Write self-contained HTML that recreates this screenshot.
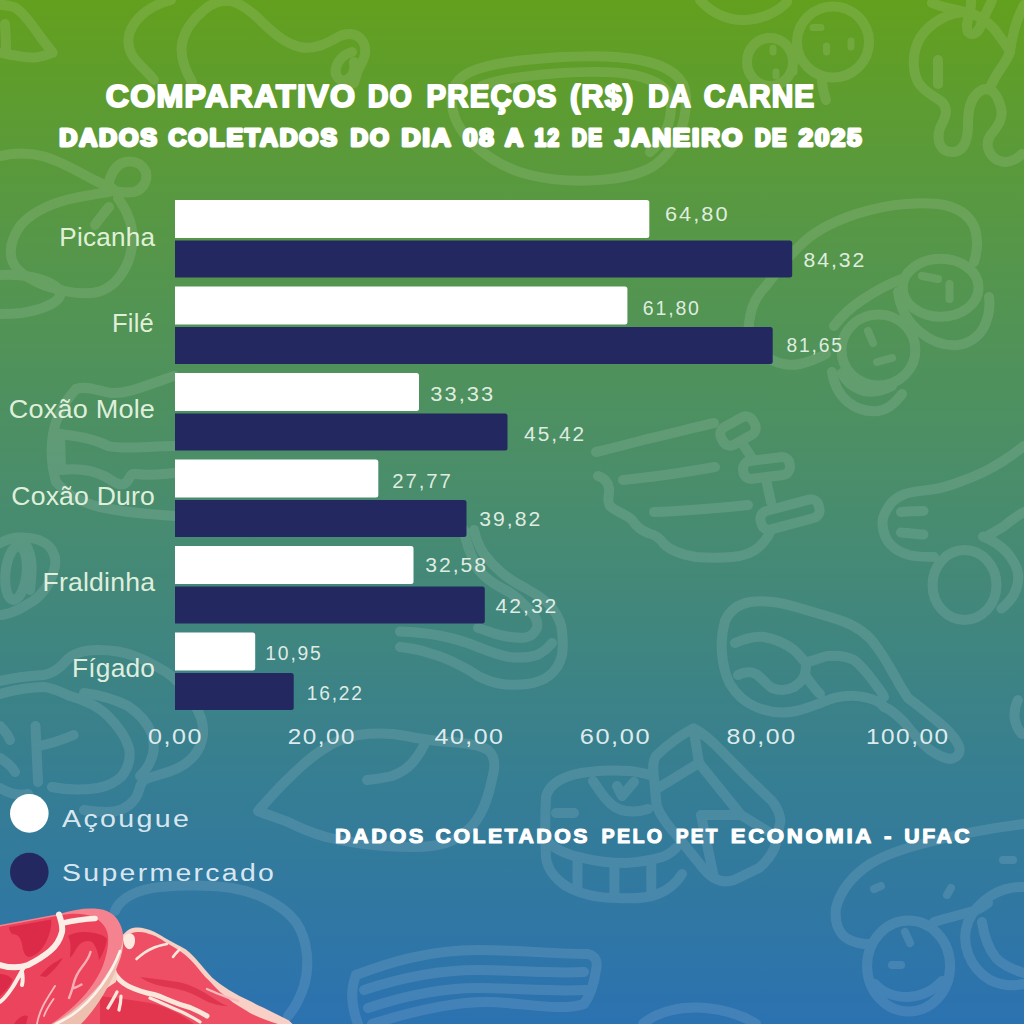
<!DOCTYPE html>
<html lang="pt-BR"><head><meta charset="utf-8"><title>Comparativo de preços da carne</title>
<style>
html,body{margin:0;padding:0;background:#3a83a0;}
body{width:1024px;height:1024px;overflow:hidden;position:relative;font-family:"Liberation Sans",sans-serif;}
svg{display:block;position:absolute;left:0;top:0;}
text{font-family:"Liberation Sans",sans-serif;fill:#fff;}
.t1{font-weight:700;font-size:31px;stroke:#fff;stroke-width:2.0px;stroke-linejoin:round;}
.t2{font-weight:700;font-size:23.8px;stroke:#fff;stroke-width:2.8px;stroke-linejoin:round;}
.cat{font-size:26.0px;fill:#eefae6;fill-opacity:.93;}
.val{font-size:19.3px;fill:#eef7ee;fill-opacity:.92;}
.ax{font-size:22.6px;fill:#eef7f7;fill-opacity:.92;}
.leg{font-size:24.6px;fill:#e8f3fa;fill-opacity:.93;}
.foot{font-weight:700;font-size:20.5px;stroke:#fff;stroke-width:1.1px;stroke-linejoin:round;}
</style></head><body>
<svg width="1024" height="1024" viewBox="0 0 1024 1024">
<defs>
<linearGradient id="bg" x1="0" y1="0" x2="0" y2="1">
<stop offset="0" stop-color="#63a01e"/>
<stop offset="0.25" stop-color="#55964b"/>
<stop offset="0.5" stop-color="#488c6f"/>
<stop offset="0.76" stop-color="#367e92"/>
<stop offset="1" stop-color="#2b72b1"/>
</linearGradient>
</defs>
<rect width="1024" height="1024" fill="url(#bg)"/>
<g id="doodles" fill="none" stroke="#ffffff" stroke-width="10" stroke-linecap="round" stroke-linejoin="round" opacity="0.11">
<!-- A: top-left leaf -->
<path d="M0 4.700C6 5 10 6 14 7C20 10 24 15 28 20C33 26 37 32 41 37.500C45 43 49 48 52.700 52.700C47 55 41 57 35 57.400C27 58 19 56 11.700 55C7 54 3 53 0 52.700"/>
<path d="M5 24C5.500 32 6 42 6 50"/>
<!-- B: ham / drumstick at top -->
<path d="M171 0C156 4 142 12 134 24C126 36 127 48 134 58C140 66 148 72 154 80"/>
<path d="M231 1C222 0 212 3 204 10C192 20 184 32 182 44C180 56 184 68 192 82"/>
<path d="M231 1C242 4 252 12 262 22C274 34 286 44 300 47C314 50 326 44 340 36C350 32 360 34 364 44C368 54 362 62 358 70C356 76 355 80 354 83"/>
<path d="M352 52C344 54 338 60 336 68C334 76 340 82 346 80C352 78 356 70 354 62"/>
<!-- C: left drumstick with knot -->
<path d="M0 156C14 153 30 153 42 156C58 160 76 170 92 179C100 183 106 186 112 188"/>
<path d="M108 186C110 176 114 167 122 163C132 159 142 163 146 172C148 182 142 190 134 192C126 193 118 192 112 190"/>
<path d="M112 191C98 194 82 196 66 200C48 205 30 214 20 226C12 238 9 250 12 260C16 272 30 280 46 286C64 292 84 295 98 292C112 288 122 276 128 262C134 246 134 230 128 216C126 210 122 204 118 198"/>
<path d="M109 207C104 213 99 219 95 225"/>
<path d="M0 275C16 274 34 276 48 282C56 286 62 290 60 296C56 304 40 310 22 313C12 314 6 314 0 314"/>
<!-- D: steak behind title -->
<path d="M470 72C500 58 600 52 640 60C665 65 685 75 686 96C687 126 675 150 655 165C630 182 570 185 530 175C490 165 455 135 452 105C450 88 458 78 470 72Z"/>
<path d="M482 86C512 74 600 68 634 75C656 80 670 88 671 102C672 122 664 140 650 152"/>
<!-- E: salami slices -->
<ellipse cx="833" cy="42" rx="36" ry="35.5"/>
<ellipse cx="770" cy="62" rx="23" ry="24"/>
<path d="M813 27.5h8M826.5 46v6M851 41v6M773 48v4M776 72v4M794 69v3" stroke-width="7"/>
<path d="M822 79C822 88 824 94 826 100"/>
<path d="M700 0C712 14 730 21 746 20C762 19 778 12 787 2"/>
<!-- F: top-right dripping shape -->
<path d="M966 12C950 12 930 22 920 38C912 52 912 70 918 82C924 92 934 96 942 102C950 110 944 120 940 128C936 140 940 152 952 152C964 152 968 140 968 124C968 110 970 96 982 90C992 86 998 96 1001 108C1004 120 996 128 990 136C984 146 990 160 1004 162C1012 162 1018 158 1022 154"/>
<path d="M938 60L938 84"/>
<path d="M932 3C944 8 956 10 966 12C976 14 990 22 998 34C1004 42 1008 48 1010 52"/>
<path d="M971 0C972 12 964 24 968 32C974 38 980 30 982 22C986 12 990 6 992 0"/>
<path d="M1024 5C1016 20 1012 36 1010 52C1006 64 996 72 990 88"/>
<!-- G: sausage with slices right -->
<path d="M750 317C752 304 758 294 766 286C778 270 790 254 806 240C820 228 838 220 856 214C872 209 890 205 906 204C920 203 934 203 944 205C958 208 968 214 974 226C978 236 978 250 974 262"/>
<path d="M750 317C748 326 748 334 752 340C756 350 764 356 772 360C780 364 790 366 800 364C810 362 818 358 826 354"/>
<path d="M902 279C888 284 874 292 862 300C850 308 840 318 834 326"/>
<ellipse cx="940.6" cy="287.8" rx="38" ry="29"/>
<path d="M898 292C900 308 908 322 920 332C932 342 946 346 958 345C972 343 982 334 986 322C990 312 990 304 989 297"/>
<ellipse cx="878.4" cy="350" rx="37" ry="35.5"/>
<path d="M832 372C834 384 838 394 848 402C858 410 868 412 878 411C888 410 896 402 902 394"/>
<path d="M842 373C846 382 854 388 864 391C874 393 884 390 892 386"/>
<path d="M922 276l16 3M949.5 284v15M868 331l5 12M877 362l15 -4" stroke-width="8"/>
<!-- J: bacon strip behind Coxao labels -->
<path d="M76 389C88 385 100 392 112 393C128 394 144 386 174 376"/>
<path d="M76 389C66 400 56 416 53 434C50 452 52 468 56 482C70 498 90 506 110 509C130 513 150 514 174 516"/>
<path d="M60 434C76 436 92 438 108 446C124 450 150 446 174 446"/>
<path d="M60 434L61 470C76 468 92 470 104 476C112 480 118 486 124 484C132 480 128 472 136 474C150 476 162 474 174 473"/>
<!-- K: left edge curl -->
<path d="M0 543C6 540 12 538 18 537.500C26 537 33 538 39 540C46 543 51 547 53 552C56 558 56 564 54 570C52 578 49 584 45 589C40 596 34 601 28 604C22 608 16 611 10 613C6 614 3 615 0 615"/>
<ellipse cx="16" cy="573" rx="10.500" ry="27" transform="rotate(6 16 573)"/>
<path d="M25 543C29 550 31 557 31.500 564C32 573 31 582 30 590"/>
<!-- behind bars: bacon shape visible right of bars rows 5-6 -->
<path d="M474 530C476 540 480 548 484 554C490 562 496 568 502 573C510 580 518 584 527 589C536 594 546 600 552 608C558 616 562 624 562 632C563 640 563 648 562 655C560 664 556 670 550 675C544 680 536 683 527 684C518 685 510 685 502 684C494 683 486 680 478 676C472 672 466 668 459 665C450 660 440 656 429 653C420 650 410 648 400 647"/>
<path d="M464 530C466 545 472 558 478 569C486 580 498 586 509 592C518 598 526 606 533 614C537 619 538 624 537 628C534 634 530 637 525 637.500C517 638 509 637 502 635.500C494 634 486 630 478 628"/>
<path d="M552 643C548 648 543 652 537 655C528 658 518 658 509 657C498 655 488 651 478 647C466 642 452 638 439 635.500C426 633 412 632 400 631.500"/>
<!-- M: ribs -->
<path d="M596 452C614 448 632 443 647 439C670 434 692 428 714 423"/>
<rect x="720" y="421" width="36" height="20" rx="8" transform="rotate(-29 738 431)"/>
<rect x="743" y="459" width="47" height="18" rx="8" transform="rotate(-7 766.500 468)"/>
<rect x="760" y="505" width="60" height="19" rx="8" transform="rotate(-15 790 514.500)"/>
<path d="M744 446L752 458M767 484L771 502"/>
<path d="M623 480C654 477 686 472 715 467"/>
<path d="M654 512C686 511 718 508 748 505"/>
<path d="M598 476C604 478 608 482 609 488C610 494 606 500 610 506C616 512 626 514 632 520C636 526 640 530 648 533C656 535 660 538 664 544C672 552 684 555 696 557C708 558 720 558 732 557C744 556 754 552 760 546C764 542 768 538 770 532"/>
<!-- O: sausage roll right edge -->
<path d="M1024 446C1014 454 1004 461 993 467C983 473 973 477 962 481C952 485 942 488 932 489.500C922 491 912 491 905 494C897 497 892 501 889 506C885 512 882 518 882.500 524C883 532 886 540 891 545C896 550 902 553 909 555C917 557 926 557 934 557"/>
<path d="M901 512C908 511.500 916 511 923.500 511M901 532.500C908 533 916 534 923.500 534.500"/>
<ellipse cx="964.500" cy="585" rx="32" ry="35"/>
<path d="M983 536.500C992 540 1001 546 1007.500 553C1013 560 1017 566 1018 573.500C1019 581 1017 588 1014 594C1011 600 1007 604 1001.500 608.500"/>
<path d="M1024 512C1017 516 1010 521 1003.500 526.500C998 530 992 533 987 536.500"/>
<!-- P: ham with handle -->
<path d="M725 621C730 610 738 604 750 602C764 600 780 602 796 607C812 612 828 616 842 621C856 626 868 634 876 646C884 656 890 668 896 678C900 686 904 692 908 698C916 704 926 712 936 720C946 728 954 736 958 744C962 752 958 758 950 759C942 758 936 754 930 750C922 744 912 732 904 722C898 716 892 710 884 707"/>
<path d="M725 621C722 632 721 644 722 654C723 666 726 676 730 684C736 694 744 702 756 707C768 712 782 714 796 711C810 708 822 702 834 698C846 695 858 695 868 698C876 700 882 704 884 707"/>
<path d="M735 643C744 639 754 636 764 637C776 639 786 644 794 650C800 655 802 660 806 662C812 662 820 657 828 656C838 655 846 656 854 660C862 666 868 674 874 682C878 688 882 692 884 697"/>
<path d="M738 675C744 672 750 671 756 674C762 678 766 684 772 688C780 691 788 690 794 687C800 683 804 678 805 674C806 670 806 666 806 662"/>
<path d="M805 675C810 682 814 688 820 694"/>
<!-- Q: T-bone steak outline bottom-left -->
<path d="M0 681C12 678 28 676 44 675C54 673 60 668 66 661C72 654 84 650 98 650C112 650 124 652 134 656C146 660 156 666 166 672C176 678 186 690 194 704C202 716 205 728 202 740C199 752 190 762 178 768C166 774 152 776 144 780C138 786 140 794 134 800C128 808 118 812 106 812C98 812 90 811 84 810"/>
<path d="M0 694C14 690 30 687 44 687C54 688 60 692 70 696C84 700 98 706 108 716C118 726 126 738 129 748C131 758 128 768 122 776C116 782 108 786 98 788C84 790 66 790 52 787"/>
<path d="M84 693C100 695 116 700 128 706C140 714 148 724 152 734C155 744 154 754 150 762C148 768 144 772 140 776"/>
<path d="M35.500 726L38 782M38 746C50 744 62 740 73.600 735"/>
<path d="M0 726C4 730 8 734 10 740M0 758C6 762 12 766 15 772M0 788C10 794 18 796 28 794"/>
<!-- R: fish / leaf -->
<path d="M258 811C268 800 278 788 290 777C300 767 310 758 322 750C334 742 346 737 358 735C374 733 390 733 406 736C420 739 436 741 450 742C466 743 480 745 488 750C494 755 495 762 494 770C492 780 490 790 487 798C484 808 479 818 472 826C464 834 456 840 446 843C436 846 424 847 414 847C396 847 380 846 364 844C350 842 338 840 326 837C312 833 300 828 288 822C278 818 268 815 258 811Z"/>
<path d="M367 780C376 779 384 778 392 776C400 773 408 768 413 762C418 756 422 750 425 743"/>
<!-- S: blob bottom-left -->
<path d="M115 911C120 898 138 889 160 887C184 885 210 885 232 888C256 892 282 904 296 922C308 940 310 966 304 986C300 998 295 1008 288 1016"/>
<!-- U: meat slab + cube -->
<path d="M546 797C548 788 556 780 572 775C588 771 610 770 630 771C638 772 644 773 650 775"/>
<path d="M546 797C545 818 545 840 546 858C548 870 554 878 566 886C580 894 598 898 617 898C634 899 648 898 658 894C668 890 676 884 682 874"/>
<path d="M548 842C556 850 568 855 583 858C598 862 612 863 626 863C640 862 652 860 662 857C668 855 672 852 676 848"/>
<path d="M577.5 858V888M614.4 865V896M651.3 862V893"/>
<path d="M593 781C598 788 602 795 607 800C612 806 618 810 626 811C634 812 642 811 648 809"/>
<path d="M617 786L622 796L634 782"/>
<path d="M556 813H574"/>
<path d="M693.500 728.500C682 734 666 746 656 756C652 762 653 770 654 778L656.500 805C660 816 670 828 678 837L699 863C704 870 710 876 716 879C722 882 728 882 734 880L759 868C766 862 772 854 775 847L780.500 821C780 814 776 806 772 801L746 776L714.500 744C708 738 700 731 693.500 728.500Z"/>
<path d="M693.500 728.500L699 763L656.500 789M699 763L741 815L775 836M701 815L714 878M701 815L741 815"/>
<!-- V: bacon -->
<path d="M356 975C390 962 430 950 478 950C516 950 556 954 588 954C596 956 598 962 596 970C594 984 590 996 584 1004C560 1012 520 1002 486 1002C450 1002 410 1012 372 1024"/>
<path d="M356 975C350 990 352 1008 358 1024"/>
<path d="M364 990C400 978 440 970 478 970C516 970 552 974 584 972"/>
<path d="M368 1008C404 996 440 988 478 988C516 988 552 992 586 990"/>
<!-- W/Z: bottom arcs -->
<path d="M643 1024C656 1012 680 1006 706 1008C726 1010 744 1016 756 1024"/>
<!-- X: sausages bottom-right -->
<path d="M1024 824C990 828 960 834 929 842C905 848 886 854 870 864C852 876 840 892 836 908C834 924 840 936 850 940C856 943 862 944 868 944"/>
<path d="M934 922C948 918 962 914 974 911C980 909 984 906 988 903"/>
<ellipse cx="908.6" cy="966" rx="41.5" ry="45.5"/>
<path d="M875 984C884 994 896 997 908 997C922 996 934 990 942 981"/>
<path d="M905 932l5 11M892 965h9M874 889l7 -3M947 895l4 -7M1003 860h10" stroke-width="8"/>
<path d="M1024 887C1000 886 978 900 968 922C960 944 970 968 990 980C1002 986 1014 986 1024 984"/>
<path d="M982 922C984 936 988 948 996 958C1004 966 1014 970 1024 973"/>
<path d="M1018 700C1012 712 1014 726 1022 734"/>
</g>

<g id="bars">
<path d="M175.0 200.0H646.8Q649.3 200.0 649.3 202.5V235.5Q649.3 238.0 646.8 238.0H175.0Z" fill="#ffffff"/>
<path d="M175.0 240.5H789.7Q792.2 240.5 792.2 243.0V275.0Q792.2 277.5 789.7 277.5H175.0Z" fill="#232860"/>
<path d="M175.0 286.5H624.9Q627.4 286.5 627.4 289.0V322.0Q627.4 324.5 624.9 324.5H175.0Z" fill="#ffffff"/>
<path d="M175.0 327.0H770.2Q772.7 327.0 772.7 329.5V361.5Q772.7 364.0 770.2 364.0H175.0Z" fill="#232860"/>
<path d="M175.0 373.0H416.5Q419.0 373.0 419.0 375.5V408.5Q419.0 411.0 416.5 411.0H175.0Z" fill="#ffffff"/>
<path d="M175.0 413.5H505.0Q507.5 413.5 507.5 416.0V448.0Q507.5 450.5 505.0 450.5H175.0Z" fill="#232860"/>
<path d="M175.0 459.5H375.8Q378.3 459.5 378.3 462.0V495.0Q378.3 497.5 375.8 497.5H175.0Z" fill="#ffffff"/>
<path d="M175.0 500.0H464.0Q466.5 500.0 466.5 502.5V534.5Q466.5 537.0 464.0 537.0H175.0Z" fill="#232860"/>
<path d="M175.0 546.0H411.0Q413.5 546.0 413.5 548.5V581.5Q413.5 584.0 411.0 584.0H175.0Z" fill="#ffffff"/>
<path d="M175.0 586.5H482.3Q484.8 586.5 484.8 589.0V621.0Q484.8 623.5 482.3 623.5H175.0Z" fill="#232860"/>
<path d="M175.0 632.5H252.7Q255.2 632.5 255.2 635.0V668.0Q255.2 670.5 252.7 670.5H175.0Z" fill="#ffffff"/>
<path d="M175.0 673.0H291.2Q293.7 673.0 293.7 675.5V707.5Q293.7 710.0 291.2 710.0H175.0Z" fill="#232860"/>
</g>
<g id="labels">
<text class="t1" transform="translate(105.70 106.50) scale(1.0392 1)" style="letter-spacing:1.2px">COMPARATIVO</text>
<text class="t1" transform="translate(367.70 106.50) scale(0.9245 1)" style="letter-spacing:1.2px">DO</text>
<text class="t1" transform="translate(426.60 106.50) scale(0.9489 1)" style="letter-spacing:1.2px">PREÇOS</text>
<text class="t1" transform="translate(569.90 106.50) scale(0.9906 1)" style="letter-spacing:1.2px">(R$)</text>
<text class="t1" transform="translate(647.90 106.50) scale(0.9326 1)" style="letter-spacing:1.2px">DA</text>
<text class="t1" transform="translate(703.70 106.50) scale(0.9613 1)" style="letter-spacing:1.2px">CARNE</text>
<text class="t2" transform="translate(59.20 145.90) scale(1.0499 1)" style="letter-spacing:1.8px">DADOS</text>
<text class="t2" transform="translate(168.60 145.90) scale(1.0392 1)" style="letter-spacing:1.8px">COLETADOS</text>
<text class="t2" transform="translate(350.50 145.90) scale(1.0213 1)" style="letter-spacing:1.8px">DO</text>
<text class="t2" transform="translate(401.60 145.90) scale(1.1031 1)" style="letter-spacing:1.8px">DIA</text>
<text class="t2" transform="translate(462.90 145.90) scale(1.0867 1)" style="letter-spacing:1.8px">08</text>
<text class="t2" transform="translate(505.10 145.90) scale(1.0523 1)" style="letter-spacing:0px">A</text>
<text class="t2" transform="translate(534.40 145.90) scale(0.8708 1)" style="letter-spacing:1.8px">12</text>
<text class="t2" transform="translate(571.90 145.90) scale(0.8580 1)" style="letter-spacing:1.8px">DE</text>
<text class="t2" transform="translate(615.10 145.90) scale(1.0901 1)" style="letter-spacing:1.8px">JANEIRO</text>
<text class="t2" transform="translate(754.90 145.90) scale(0.9010 1)" style="letter-spacing:1.8px">DE</text>
<text class="t2" transform="translate(798.80 145.90) scale(1.0746 1)" style="letter-spacing:1.8px">2025</text>
<text class="cat" transform="translate(59.25 245.50) scale(1.0058 1)" style="letter-spacing:0.2px">Picanha</text>
<text class="val" transform="translate(665.00 220.80) scale(1.1261 1)" style="letter-spacing:1.8px">64,80</text>
<text class="val" transform="translate(803.40 267.40) scale(1.0991 1)" style="letter-spacing:1.8px">84,32</text>
<text class="cat" transform="translate(112.00 332.00) scale(0.9824 1)" style="letter-spacing:0.2px">Filé</text>
<text class="val" transform="translate(642.80 314.50) scale(1.0126 1)" style="letter-spacing:1.8px">61,80</text>
<text class="val" transform="translate(786.60 352.00) scale(0.9982 1)" style="letter-spacing:1.8px">81,65</text>
<text class="cat" transform="translate(8.75 418.00) scale(1.0406 1)" style="letter-spacing:0.2px">Coxão Mole</text>
<text class="val" transform="translate(430.30 401.00) scale(1.1351 1)" style="letter-spacing:1.8px">33,33</text>
<text class="val" transform="translate(524.10 440.60) scale(1.0811 1)" style="letter-spacing:1.8px">45,42</text>
<text class="cat" transform="translate(11.25 504.75) scale(1.0228 1)" style="letter-spacing:0.2px">Coxão Duro</text>
<text class="val" transform="translate(392.20 487.50) scale(1.0559 1)" style="letter-spacing:1.8px">27,77</text>
<text class="val" transform="translate(479.30 525.60) scale(1.0973 1)" style="letter-spacing:1.8px">39,82</text>
<text class="cat" transform="translate(42.50 591.00) scale(1.0223 1)" style="letter-spacing:0.2px">Fraldinha</text>
<text class="val" transform="translate(425.30 572.30) scale(1.0955 1)" style="letter-spacing:1.8px">32,58</text>
<text class="val" transform="translate(495.60 613.10) scale(1.0955 1)" style="letter-spacing:1.8px">42,32</text>
<text class="cat" transform="translate(72.00 677.25) scale(1.0128 1)" style="letter-spacing:0.2px">Fígado</text>
<text class="val" transform="translate(265.30 659.50) scale(1.0018 1)" style="letter-spacing:1.8px">10,95</text>
<text class="val" transform="translate(306.80 700.00) scale(0.9946 1)" style="letter-spacing:1.8px">16,22</text>
<text class="ax" transform="translate(148.00 743.70) scale(1.1100 1)" style="letter-spacing:1.4px">0,00</text>
<text class="ax" transform="translate(287.70 743.70) scale(1.0748 1)" style="letter-spacing:1.4px">20,00</text>
<text class="ax" transform="translate(434.50 743.70) scale(1.1022 1)" style="letter-spacing:1.4px">40,00</text>
<text class="ax" transform="translate(579.80 743.70) scale(1.1215 1)" style="letter-spacing:1.4px">60,00</text>
<text class="ax" transform="translate(726.60 743.70) scale(1.1006 1)" style="letter-spacing:1.4px">80,00</text>
<text class="ax" transform="translate(866.00 743.70) scale(1.0775 1)" style="letter-spacing:1.4px">100,00</text>
<circle cx="29.3" cy="813.4" r="19.3" fill="#ffffff"/>
<circle cx="29.3" cy="872" r="19.3" fill="#232860"/>
<text class="leg" transform="translate(62.00 826.90) scale(1.1641 1)" style="letter-spacing:2.0px">Açougue</text>
<text class="leg" transform="translate(62.00 881.00) scale(1.1563 1)" style="letter-spacing:2.0px">Supermercado</text>
<text class="foot" transform="translate(334.95 842.75) scale(1.0556 1)" style="letter-spacing:2.4px">DADOS</text>
<text class="foot" transform="translate(435.55 842.75) scale(1.0379 1)" style="letter-spacing:2.4px">COLETADOS</text>
<text class="foot" transform="translate(601.55 842.75) scale(0.9619 1)" style="letter-spacing:2.4px">PELO</text>
<text class="foot" transform="translate(675.75 842.75) scale(0.9362 1)" style="letter-spacing:2.4px">PET</text>
<text class="foot" transform="translate(730.75 842.75) scale(1.0853 1)" style="letter-spacing:2.4px">ECONOMIA</text>
<text class="foot" transform="translate(883.95 842.75) scale(1.0949 1)" style="letter-spacing:0px">-</text>
<text class="foot" transform="translate(904.35 842.75) scale(1.0365 1)" style="letter-spacing:2.4px">UFAC</text>
</g>
<g id="meat">
<!-- back steak -->
<path d="M60 1024L100 950L122 936C126 931 130 928 136 927.500C142 927 146 929 150 930C156 932 160 935 165 938C172 942 180 946 186 949.500C191 953 195 958 199 962.500C203 967 207 972 212 977.500C217 982 223 986 229 990C236 994 243 998 250 1001C257 1005 265 1008 272 1012C278 1015 284 1018 289 1020.500L292.500 1024Z" fill="#f8d0c5"/>
<path d="M60 1024L100 954L124 940C127 935 131 932.500 137 932C143 931.500 147 933 151 934.500C157 936.500 161 939 165 942C172 946 179 950 184 954C189 958 193 962 197 967C201 972 205 977 208.500 980C212 984 216 988 220 992C225 996 229 999 233 1002.500C239 1006 245 1010 250 1013C258 1017 268 1021 278 1024Z" fill="#ee4f65"/>
<path d="M100 996C116 998 134 1000 150 1003C164 1006 176 1012 186 1018L194 1024L100 1024Z" fill="#e2364f"/>
<path d="M140 977C150 978 164 980 178 982C190 984 200 990 210 996C216 1000 222 1004 228 1006C220 1006 212 1004 204 1000C194 994 184 990 172 988C160 986 150 984 140 977Z" fill="#df3650"/>
<path d="M124 936C130 931 135 934 135 940C135 946 132 950 128 949C124 947 122 940 124 936Z" fill="#fbe9e0"/>
<path d="M113 971C117 978 122 983 128 986C136 990 146 993 154 994.500C160 996 166 999 171 1001C178 1004 184 1006 190 1007.500C196 1010 202 1013 207 1016" fill="none" stroke="#fbe6dc" stroke-width="5" stroke-linecap="round" stroke-linejoin="round"/>
<path d="M150 998C160 1002 172 1008 182 1012C190 1016 196 1019 200 1022M117 992C114 998 111 1003 108 1008M121 996C121 1002 120 1006 119 1010" fill="none" stroke="#fbe6dc" stroke-width="3.2" stroke-linecap="round" stroke-linejoin="round"/>
<path d="M136.500 959C141 955 146 951 152 948.500C157 946 162 945 167 944M173 957C175 954 177 952 179.500 949.500" fill="none" stroke="#fbe6dc" stroke-width="2.6" stroke-linecap="round" stroke-linejoin="round"/>
<path d="M207 989C212 991 216 993 220 994.500C226 997 232 999 238 1001" fill="none" stroke="#f9b9bd" stroke-width="2.4" stroke-linecap="round"/>
<path d="M112 960C116 966 118 974 116 982L104 990Z" fill="#f6d5c8"/>
<!-- front steak: side band -->
<path d="M123 936C124 946 122 954 119 962C114 976 106 992 96 1006C91 1013 86 1019 81 1024L46 1024L100 984Z" fill="#ecbfae"/>
<!-- front steak: top face -->
<path d="M0 925L59 914C72 910 84 908 94 908.5C108 909 116 915 120 924C124 932 124 940 121 948C118 956 110 970 100 984C92 994 82 1003 72 1011C64 1017 58 1021 52 1024L0 1024Z" fill="#f4838f"/>
<path d="M0 926.5L59 915.5C72 913 84 913 93 917C102 921 107 928 108 936C109 946 106 958 102 968C97 979 89 991 79 1001C69 1011 60 1018 51 1024L0 1024Z" fill="#ec445c"/>
<path d="M9 927L51 919.5C52 926 50 934 46 942C42 950 36 956 29 957C24 956 23 950 22 944C21 938 18 934 12 934C10 932 9 929 9 927Z" fill="#dc2b48"/>
<path d="M68 936C74 932 84 931 94 933C100 934 105 936 107 939C106 946 103 954 99 960C98 952 96 946 92 942C88 940 84 941 80 944C76 948 74 954 70 958C70 950 72 944 68 936Z" fill="#dc2b48"/>
<path d="M40 976C46 968 54 962 63 958C58 966 52 972 46 977Z" fill="#dc2b48"/>
<path d="M0 974C5 974 10 976 12.5 980C10 986 5 992 0 996Z" fill="#dc2b48"/>
<path d="M14 1024C18 1018 23 1014 28 1016L26 1024Z" fill="#dc2b48"/>
<path d="M59 914.5C61 920 63 926 62 932C60 940 56 946 50 951C44 956 36 961 28 965C20 968 10 968 0 965" fill="none" stroke="#fbeee6" stroke-width="6" stroke-linecap="round" stroke-linejoin="round"/>
<path d="M63 923C72 921 84 919 95 918.5" fill="none" stroke="#fbeee6" stroke-width="5.6" stroke-linecap="round"/>
<path d="M24 967C20 974 16 982 12 988C8 994 4 999 0 1002M22 972C23 977 23 981 22 985" fill="none" stroke="#fbeee6" stroke-width="4" stroke-linecap="round" stroke-linejoin="round"/>
<path d="M90.5 952C89 958 86 962 82 967C78 972 75 978 73.5 984C72.5 989 71 993 69 998M74 988C77 987 79 986 81.5 984.5" fill="none" stroke="#f9aeb3" stroke-width="2.4" stroke-linecap="round" stroke-linejoin="round"/>
<path d="M55 986C50 994 46 1000 43 1006C40 1012 38 1018 37 1024M53.5 999C50 1004 46 1010 44 1016" fill="none" stroke="#f8b9bd" stroke-width="1.8" stroke-linecap="round" stroke-linejoin="round"/>
<path d="M120 951C116 962 109 975 101 986C93 997 82 1008 72 1015C66 1019 60 1022 56 1024" fill="none" stroke="#fdf3ee" stroke-width="2.6" stroke-linecap="round"/>
</g>

</svg></body></html>
